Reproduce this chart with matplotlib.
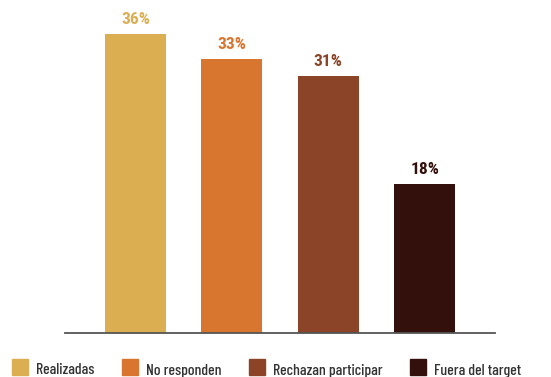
import matplotlib
matplotlib.use("Agg")
import matplotlib.pyplot as plt
from matplotlib.patches import Rectangle

categories = ["Realizadas", "No responden", "Rechazan participar", "Fuera del target"]
values = [36, 33, 31, 18]
labels = ["36%", "33%", "31%", "18%"]
colors = ["#DBAE52", "#D8752E", "#8B4428", "#33100C"]

FONT = "Barlow Condensed"
LABEL_FONT = "Roboto Condensed"

fig = plt.figure(figsize=(5.51, 3.77), dpi=100)
W, H = 551, 377
ax = fig.add_axes([65 / W, 44 / H, 430 / W, 332 / H])

x = list(range(len(values)))
ax.bar(x, values, width=0.635, color=colors, zorder=2)
ax.set_xlim(-0.73, 3.73)
ax.set_ylim(0, 40)

for xi, v, lab, c in zip(x, values, labels, colors):
    ax.annotate(lab, (xi, v), xytext=(0, 7.2), textcoords="offset points",
                ha="center", va="baseline", color=c, fontsize=12.5,
                fontfamily=LABEL_FONT, fontweight="bold")

for s in ["top", "right", "left"]:
    ax.spines[s].set_visible(False)
ax.spines["bottom"].set_color("#555555")
ax.spines["bottom"].set_linewidth(1.3)
ax.set_xticks([])
ax.set_yticks([])

# legend row along the bottom
sq_x = [12, 122, 249, 410]
for sx, cat, c in zip(sq_x, categories, colors):
    fig.patches.append(Rectangle((sx / W, 2 / H), 15.5 / W, 16 / H,
                                 transform=fig.transFigure, color=c))
    fig.text((sx + 24) / W, 2.5 / H, cat, ha="left", va="baseline",
             fontsize=11.3, fontfamily=FONT, fontweight="medium", color="#333333")

fig.savefig("out.png", dpi=100)
